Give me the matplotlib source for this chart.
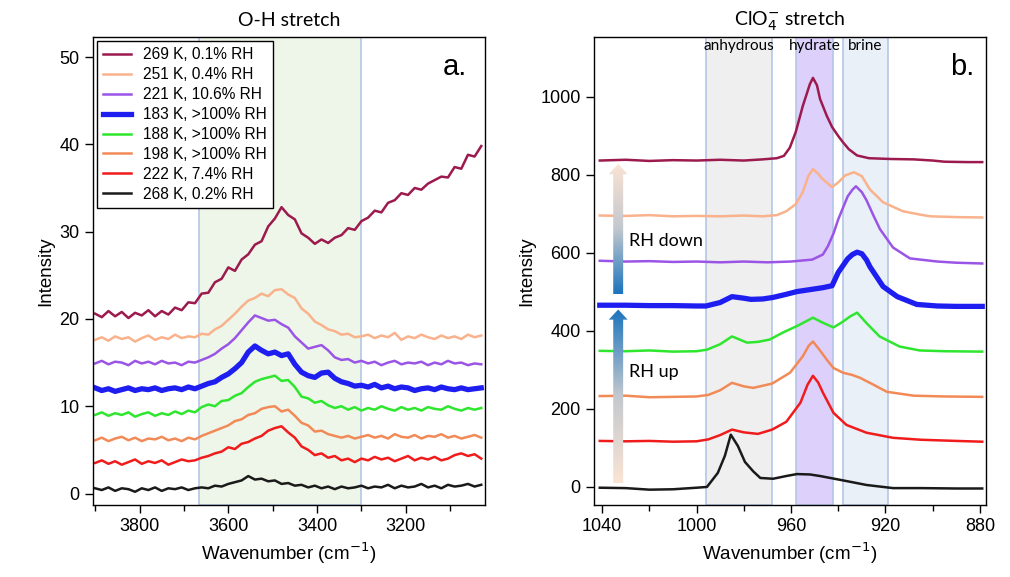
import numpy as np
import matplotlib
matplotlib.use("Agg")
import matplotlib.pyplot as plt
from matplotlib.patches import FancyArrow
from matplotlib.colors import LinearSegmentedColormap

plt.rcParams['font.family'] = ['Liberation Sans', 'DejaVu Sans']

# ---------------- panel a: O-H stretch ----------------
wn_oh = [3900, 3885, 3870, 3855, 3840, 3825, 3810, 3795, 3780, 3765,
         3750, 3735, 3720, 3705, 3690, 3675, 3660, 3645, 3630, 3615,
         3600, 3585, 3570, 3555, 3540, 3525, 3510, 3495, 3480, 3465,
         3450, 3435, 3420, 3405, 3390, 3375, 3360, 3345, 3330, 3315,
         3300, 3285, 3270, 3255, 3240, 3225, 3210, 3195, 3180, 3165,
         3150, 3135, 3120, 3105, 3090, 3075, 3060, 3045, 3030]

oh_269K = [20.6, 20.2, 20.9, 20.3, 20.8, 20.1, 20.7, 20.4, 21.0, 20.3,
           20.9, 20.5, 21.3, 21.0, 21.9, 21.8, 22.9, 23.0, 24.2, 24.6,
           25.9, 25.5, 26.8, 27.4, 28.5, 28.9, 30.6, 31.5, 32.8, 31.9,
           31.4, 29.8, 29.3, 28.6, 29.1, 28.7, 29.3, 29.6, 30.4, 30.2,
           31.2, 31.6, 32.4, 32.2, 33.3, 33.6, 34.4, 34.2, 35.0, 34.8,
           35.5, 35.9, 36.3, 36.2, 37.4, 37.2, 38.8, 38.6, 39.8]
oh_251K = [17.6, 17.9, 17.5, 18.0, 17.7, 17.9, 17.4, 17.8, 18.1, 17.6,
           17.9, 17.7, 18.2, 17.8, 18.0, 17.9, 18.3, 18.2, 18.8, 19.2,
           19.9, 20.6, 21.4, 22.1, 22.4, 22.9, 22.6, 23.3, 23.4, 22.8,
           22.4, 21.2, 20.6, 19.7, 19.3, 18.8, 18.6, 18.2, 18.3, 17.9,
           18.0, 18.2, 17.8, 18.1, 17.9, 18.4, 17.6, 18.0, 17.8, 18.2,
           17.9, 17.7, 18.1, 17.8, 18.0, 17.7, 18.2, 17.9, 18.1]
oh_221K = [14.9, 15.2, 14.8, 15.1, 15.0, 14.7, 15.2, 14.9, 15.1, 14.8,
           15.2, 14.9, 15.0, 14.7, 15.1, 15.0, 15.3, 15.6, 16.0, 16.6,
           17.1, 17.8, 18.7, 19.6, 20.4, 20.1, 19.8, 19.9, 19.4, 19.0,
           18.0, 17.3, 16.6, 16.8, 17.0, 16.4, 15.6, 15.3, 15.4, 15.0,
           15.2, 14.9, 15.1, 14.7, 15.0, 15.2, 14.8, 15.0, 14.9, 15.1,
           14.7, 15.0, 14.8, 15.2, 14.9, 15.0, 14.7, 14.9, 14.8]
oh_183K = [12.1, 11.8, 12.0, 11.7, 11.9, 12.1, 11.8, 12.0, 11.9, 12.1,
           11.8, 12.0, 12.1, 11.9, 12.2, 12.0, 12.3, 12.6, 12.8, 13.3,
           13.7, 14.3, 15.0, 16.2, 16.9, 16.4, 16.0, 16.2, 15.8, 16.0,
           14.8, 13.9, 13.5, 13.3, 13.8, 13.9, 13.2, 12.8, 12.6, 12.3,
           12.4, 12.2, 12.5, 12.1, 12.3, 12.0, 12.2, 12.1, 11.8, 12.0,
           12.1, 11.9, 12.2, 12.0, 11.9, 12.1, 11.9, 12.0, 12.1]
oh_188K = [9.0, 9.3, 8.9, 9.2, 9.0, 9.3, 8.8, 9.1, 9.3, 8.9,
           9.2, 9.0, 9.4, 9.1, 9.5, 9.3, 9.9, 10.2, 10.0, 10.6,
           10.7, 11.2, 11.5, 12.2, 12.8, 13.1, 13.3, 13.5, 12.9, 13.0,
           12.2, 11.1, 10.9, 10.4, 10.6, 10.1, 9.8, 10.0, 9.6, 9.9,
           9.5, 9.8, 9.6, 10.0, 9.7, 9.5, 9.9, 9.6, 9.8, 9.5,
           9.9, 9.7, 9.6, 10.0, 9.7, 9.5, 9.8, 9.6, 9.8]
oh_198K = [6.1, 6.4, 6.0, 6.3, 6.5, 6.1, 6.4, 6.0, 6.3, 6.2,
           6.5, 6.1, 6.3, 6.0, 6.4, 6.2, 6.6, 6.9, 7.2, 7.5,
           7.8, 8.3, 8.5, 9.0, 9.2, 9.7, 9.9, 10.0, 9.4, 9.6,
           8.9, 8.1, 7.8, 7.1, 7.2, 6.8, 6.6, 6.4, 6.6, 6.3,
           6.5, 6.7, 6.4, 6.6, 6.3, 6.8, 6.5, 6.4, 6.7, 6.3,
           6.6, 6.5, 6.8, 6.4, 6.6, 6.3, 6.5, 6.7, 6.4]
oh_222K = [3.5, 3.8, 3.4, 3.7, 3.3, 3.6, 3.9, 3.4, 3.7, 3.5,
           3.8, 3.3, 3.6, 3.9, 3.7, 3.8, 4.1, 4.3, 4.6, 4.8,
           5.3, 5.1, 5.7, 5.9, 6.3, 6.6, 7.2, 7.5, 7.7, 7.0,
           6.4, 5.4, 5.0, 4.4, 4.6, 4.1, 4.3, 3.8, 4.0, 3.6,
           4.0, 3.8, 4.2, 3.9, 4.1, 3.7, 4.0, 4.3, 3.8, 4.1,
           3.9, 4.2, 3.8, 4.0, 4.4, 4.6, 4.3, 4.5, 4.0]
oh_268K = [0.6, 0.4, 0.7, 0.3, 0.6, 0.5, 0.2, 0.6, 0.4, 0.7,
           0.3, 0.6, 0.5, 0.7, 0.4, 0.6, 0.7, 0.6, 0.9, 0.8,
           1.1, 1.3, 1.5, 2.0, 1.6, 1.7, 1.4, 1.5, 1.1, 1.2,
           0.9, 1.0, 0.7, 0.9, 0.6, 0.8, 0.5, 0.8, 0.6, 0.7,
           0.9, 0.6, 0.8, 0.7, 1.0, 0.6, 0.9, 0.7, 0.8, 1.1,
           0.7, 0.9, 0.6, 1.0, 0.8, 0.9, 1.1, 0.8, 1.0]

# ---------------- panel b: ClO4- stretch ----------------
wn_269K = [1041, 1030, 1020, 1010, 1000, 990, 980, 972, 966, 963, 960.5, 958, 955, 952, 950.7,
           949, 947.7, 944.8, 942.6, 940, 938, 935.5, 932, 927, 918, 908, 900, 895, 885, 879]
cl_269K = [837, 839, 836, 838, 837, 839, 837, 840, 843, 849, 870, 910, 977, 1033, 1049,
           1030, 995, 951, 923, 900, 884, 866, 850, 843, 841, 840, 837, 834, 833, 833]
wn_251K = [1041, 1030, 1020, 1010, 1000, 990, 980, 972, 966, 962, 958, 955, 952.7, 950.7,
           948.5, 946.5, 942.6, 940, 937, 933.3, 930, 926.6, 921, 912.6, 905, 901, 890, 879]
cl_251K = [696, 695, 697, 694, 695, 694, 696, 694, 697, 707, 725, 756, 797, 815,
           803, 789, 769, 781, 799, 807, 797, 763, 730, 707, 698, 694, 692, 691]
wn_221K = [1041, 1030, 1020, 1010, 1000, 990, 980, 970, 960, 951, 946.5, 944.4,
           942, 940, 936, 934, 932.5, 930, 928, 925, 922.3, 916.8, 909.6, 898, 890, 879]
cl_221K = [580, 578, 579, 577, 578, 576, 578, 576, 578, 583, 596, 617,
           650, 686, 745, 762, 771, 756, 735, 695, 661, 614, 586, 578, 575, 573]
wn_183K = [1041, 1030, 1020, 1010, 1000, 996, 990, 985, 980, 977, 972, 967.6, 962, 957.5,
           952, 946.5, 942.6, 940, 936, 934, 932, 930, 928, 926.6, 921, 915, 906.7, 898, 890, 879]
cl_183K = [466, 466, 465, 465, 464, 464, 473, 488, 484, 481, 482, 486, 494, 501,
           506, 511, 516, 550, 585, 596, 602, 598, 582, 565, 514, 488, 468, 464, 463, 463]
wn_188K = [1041, 1030, 1020, 1010, 1000, 995.6, 990, 985, 981, 978.6, 974, 969, 963.4,
           957, 950.7, 946.5, 942, 938, 935, 932, 928, 922.5, 914, 905.5, 895, 879]
cl_188K = [349, 348, 350, 347, 348, 352, 366, 386, 376, 370, 372, 378, 396,
           414, 434, 421, 409, 424, 437, 447, 420, 386, 360, 350, 348, 347]
wn_198K = [1041, 1030, 1020, 1010, 1000, 995, 990, 985, 980, 976, 968, 960.4, 955,
           952.5, 950.7, 947.7, 944.8, 942, 938, 934, 930.8, 925, 919.4, 908, 895, 879]
cl_198K = [233, 234, 230, 231, 232, 236, 248, 267, 258, 254, 265, 293, 335,
           362, 373, 350, 326, 305, 293, 287, 280, 262, 244, 234, 232, 231]
wn_222K = [1041, 1030, 1020, 1010, 1000, 995, 990, 985, 980, 974, 968, 962,
           956, 953, 950.7, 948.5, 946.5, 942, 936.5, 928, 916.8, 905, 890, 879]
cl_222K = [118, 117, 118, 116, 117, 122, 133, 147, 140, 136, 147, 167,
           216, 262, 285, 268, 242, 190, 159, 139, 126, 121, 118, 116]
wn_268K = [1041, 1030, 1020, 1010, 1000, 995.6, 991, 988, 985.5, 982.5, 979.5, 976,
           973, 967.6, 962, 957.5, 952, 947.7, 939, 928, 916.8, 905, 890, 879]
cl_268K = [-2, -3, -7, -6, -2, 0, 36, 80, 134, 105, 64, 40,
           23, 21, 28, 33, 32, 28, 18, 5, -3, -3, -4, -4]

labels = ['269 K, 0.1% RH', '251 K, 0.4% RH', '221 K, 10.6% RH', '183 K, >100% RH',
          '188 K, >100% RH', '198 K, >100% RH', '222 K, 7.4% RH', '268 K, 0.2% RH']
colors = ['#9c1a4e', '#f9b28c', '#9b55e6', '#1e1ef0',
          '#2ee62e', '#f28a58', '#f01c1c', '#1a1a1a']
widths = [1.8, 1.8, 1.8, 3.8, 1.8, 1.8, 1.8, 1.8]

oh_series = [oh_269K, oh_251K, oh_221K, oh_183K, oh_188K, oh_198K, oh_222K, oh_268K]
cl_series = [(wn_269K, cl_269K), (wn_251K, cl_251K), (wn_221K, cl_221K), (wn_183K, cl_183K),
             (wn_188K, cl_188K), (wn_198K, cl_198K), (wn_222K, cl_222K), (wn_268K, cl_268K)]

# band regions (cm-1)
oh_band = (3300, 3667)
regions = [('anhydrous', 968, 996, '#efefef'),
           ('hydrate', 942, 958, '#ddd0fb'),
           ('brine', 919, 938, '#eaf0f8')]
edge = '#b4c7e7'
title_font = ['Lato', 'DejaVu Sans']

fig = plt.figure(figsize=(10.1, 5.77), dpi=100)
ax1 = fig.add_axes([0.092, 0.125, 0.388, 0.811])
ax2 = fig.add_axes([0.588, 0.125, 0.388, 0.811])

# ---- panel a
ax1.axvspan(*oh_band, facecolor='#eef6e9', edgecolor=edge, lw=1.2, zorder=0)
for y, c, lw, lab in zip(oh_series, colors, widths, labels):
    ax1.plot(wn_oh, y, color=c, lw=lw, label=lab, zorder=2)
ax1.set_xlim(3905, 3022)
ax1.set_ylim(-1.3, 52.3)
ax1.set_xticks([3800, 3600, 3400, 3200])
ax1.set_xticks([3900, 3700, 3500, 3300, 3100], minor=True)
ax1.set_yticks([0, 10, 20, 30, 40, 50])
leg = ax1.legend(loc='upper left', fontsize=11.2, frameon=True, fancybox=False,
                 edgecolor='black', framealpha=1, borderaxespad=0.25,
                 handlelength=1.8, labelspacing=0.32, borderpad=0.4)
leg.get_frame().set_linewidth(1.0)
ax1.text(0.923, 0.935, 'a.', transform=ax1.transAxes, fontsize=21,
         ha='center', va='center')
ax1.set_title('O-H stretch', fontsize=14, pad=8, family=title_font)

# ---- panel b
for name, lo, hi, fc in regions:
    ax2.axvspan(lo, hi, facecolor=fc, edgecolor=edge, lw=1.2, zorder=0)
    ax2.text((lo + hi) / 2, 0.981, name, transform=ax2.get_xaxis_transform(),
             ha='center', va='center', fontsize=11, family=title_font)
for (x, y), c, lw in zip(cl_series, colors, widths):
    ax2.plot(x, y, color=c, lw=lw, zorder=2)

# gradient arrows: RH up runs peach -> blue, RH down runs blue -> peach
peach_to_blue = LinearSegmentedColormap.from_list('pb', ['#fbe4d4', '#c3c8ce', '#1b74bd'])
arrows = [(1033.2, 10, 455, False), (1033.2, 494, 828, True)]
for x0, y0, y1, flip in arrows:
    arr = FancyArrow(x0, y0, 0, y1 - y0, width=4.2, head_width=8.0, head_length=26,
                     length_includes_head=True, transform=ax2.transData, lw=0)
    ax2.add_patch(arr)
    arr.set_alpha(0)
    grad = np.linspace(0, 1, 256).reshape(-1, 1)
    if flip:
        grad = grad[::-1]
    im = ax2.imshow(grad, cmap=peach_to_blue, origin='lower', aspect='auto',
                    extent=[x0 + 5, x0 - 5, y0, y1], zorder=3)
    im.set_clip_path(arr)
ax2.text(1028.5, 296, 'RH up', fontsize=13, va='center', ha='left', family=title_font)
ax2.text(1028.5, 630, 'RH down', fontsize=13, va='center', ha='left', family=title_font)

ax2.set_xlim(1043.5, 877.5)
ax2.set_ylim(-46, 1154)
ax2.set_xticks([1040, 1000, 960, 920, 880])
ax2.set_xticks([1020, 980, 940, 900], minor=True)
ax2.set_yticks([0, 200, 400, 600, 800, 1000])
ax2.text(0.94, 0.935, 'b.', transform=ax2.transAxes, fontsize=21,
         ha='center', va='center')
ax2.set_title(r'ClO$_4^{-}$ stretch', fontsize=14, pad=8, family=title_font)

for ax in (ax1, ax2):
    ax.tick_params(axis='both', which='major', direction='out', length=6, width=1,
                   labelsize=13)
    ax.tick_params(axis='x', which='minor', direction='out', length=4, width=1)
    ax.set_xlabel(r'Wavenumber (cm$^{-1}$)', fontsize=13.5)
    ax.set_ylabel('Intensity', fontsize=13.5)
    for s in ax.spines.values():
        s.set_linewidth(1.0)

fig.savefig('out.png', dpi=100)
